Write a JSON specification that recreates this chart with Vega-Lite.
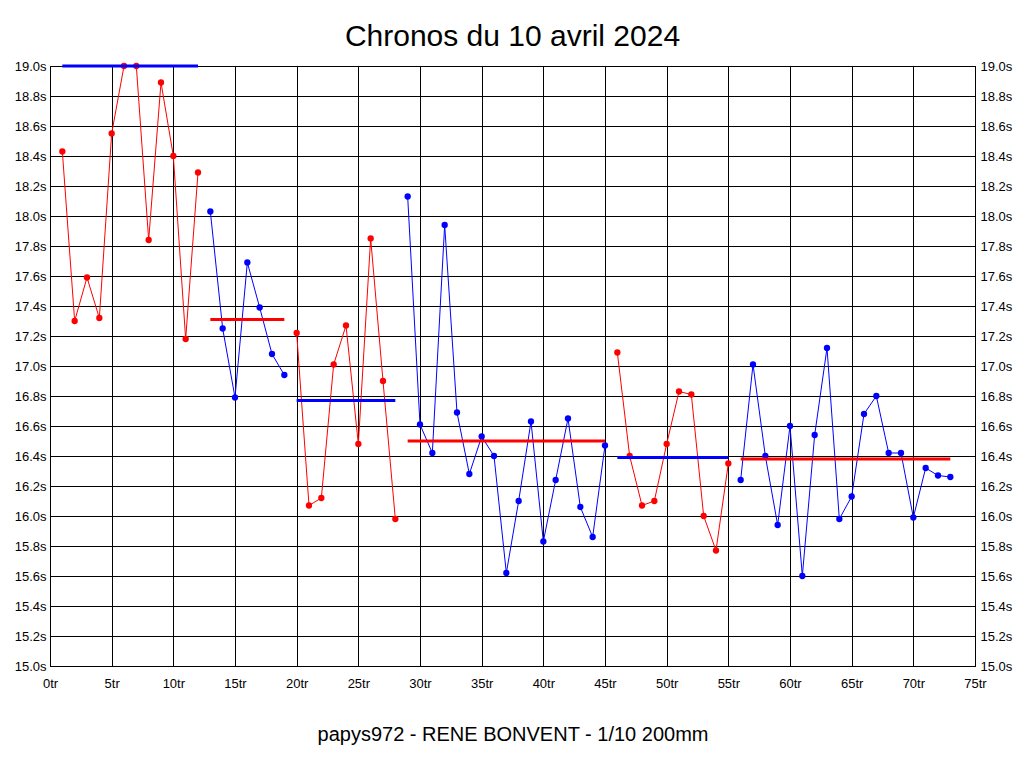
{
  "$schema": "https://vega.github.io/schema/vega-lite/v6.json",
  "width": 925,
  "height": 600,
  "autosize": {"type": "none"},
  "padding": {"left": 50, "top": 66, "right": 49, "bottom": 102},
  "background": "white",
  "title": {
    "text": "Chronos du 10 avril 2024",
    "fontSize": 30,
    "font": "Liberation Sans",
    "fontWeight": "normal",
    "color": "black",
    "anchor": "middle",
    "baseline": "alphabetic",
    "offset": -16
  },
  "config": {
    "view": {"stroke": "black", "strokeWidth": 1},
    "axis": {
      "labelFont": "Liberation Sans",
      "labelFontSize": 13,
      "labelColor": "black",
      "ticks": false,
      "tickSize": 0,
      "domainColor": "black",
      "gridColor": "black",
      "gridOpacity": 1,
      "gridWidth": 1,
      "titleFont": "Liberation Sans",
      "titleFontSize": 20,
      "titleFontWeight": "normal",
      "titleColor": "black"
    }
  },
  "datasets": {
    "laps": [
      {"lap": 1, "time": 18.43, "stint": 1},
      {"lap": 2, "time": 17.30, "stint": 1},
      {"lap": 3, "time": 17.59, "stint": 1},
      {"lap": 4, "time": 17.32, "stint": 1},
      {"lap": 5, "time": 18.55, "stint": 1},
      {"lap": 6, "time": 19.00, "stint": 1},
      {"lap": 7, "time": 19.00, "stint": 1},
      {"lap": 8, "time": 17.84, "stint": 1},
      {"lap": 9, "time": 18.89, "stint": 1},
      {"lap": 10, "time": 18.40, "stint": 1},
      {"lap": 11, "time": 17.18, "stint": 1},
      {"lap": 12, "time": 18.29, "stint": 1},
      {"lap": 13, "time": 18.03, "stint": 2},
      {"lap": 14, "time": 17.25, "stint": 2},
      {"lap": 15, "time": 16.79, "stint": 2},
      {"lap": 16, "time": 17.69, "stint": 2},
      {"lap": 17, "time": 17.39, "stint": 2},
      {"lap": 18, "time": 17.08, "stint": 2},
      {"lap": 19, "time": 16.94, "stint": 2},
      {"lap": 20, "time": 17.22, "stint": 3},
      {"lap": 21, "time": 16.07, "stint": 3},
      {"lap": 22, "time": 16.12, "stint": 3},
      {"lap": 23, "time": 17.01, "stint": 3},
      {"lap": 24, "time": 17.27, "stint": 3},
      {"lap": 25, "time": 16.48, "stint": 3},
      {"lap": 26, "time": 17.85, "stint": 3},
      {"lap": 27, "time": 16.90, "stint": 3},
      {"lap": 28, "time": 15.98, "stint": 3},
      {"lap": 29, "time": 18.13, "stint": 4},
      {"lap": 30, "time": 16.61, "stint": 4},
      {"lap": 31, "time": 16.42, "stint": 4},
      {"lap": 32, "time": 17.94, "stint": 4},
      {"lap": 33, "time": 16.69, "stint": 4},
      {"lap": 34, "time": 16.28, "stint": 4},
      {"lap": 35, "time": 16.53, "stint": 4},
      {"lap": 36, "time": 16.40, "stint": 4},
      {"lap": 37, "time": 15.62, "stint": 4},
      {"lap": 38, "time": 16.10, "stint": 4},
      {"lap": 39, "time": 16.63, "stint": 4},
      {"lap": 40, "time": 15.83, "stint": 4},
      {"lap": 41, "time": 16.24, "stint": 4},
      {"lap": 42, "time": 16.65, "stint": 4},
      {"lap": 43, "time": 16.06, "stint": 4},
      {"lap": 44, "time": 15.86, "stint": 4},
      {"lap": 45, "time": 16.47, "stint": 4},
      {"lap": 46, "time": 17.09, "stint": 5},
      {"lap": 47, "time": 16.40, "stint": 5},
      {"lap": 48, "time": 16.07, "stint": 5},
      {"lap": 49, "time": 16.10, "stint": 5},
      {"lap": 50, "time": 16.48, "stint": 5},
      {"lap": 51, "time": 16.83, "stint": 5},
      {"lap": 52, "time": 16.81, "stint": 5},
      {"lap": 53, "time": 16.00, "stint": 5},
      {"lap": 54, "time": 15.77, "stint": 5},
      {"lap": 55, "time": 16.35, "stint": 5},
      {"lap": 56, "time": 16.24, "stint": 6},
      {"lap": 57, "time": 17.01, "stint": 6},
      {"lap": 58, "time": 16.40, "stint": 6},
      {"lap": 59, "time": 15.94, "stint": 6},
      {"lap": 60, "time": 16.60, "stint": 6},
      {"lap": 61, "time": 15.60, "stint": 6},
      {"lap": 62, "time": 16.54, "stint": 6},
      {"lap": 63, "time": 17.12, "stint": 6},
      {"lap": 64, "time": 15.98, "stint": 6},
      {"lap": 65, "time": 16.13, "stint": 6},
      {"lap": 66, "time": 16.68, "stint": 6},
      {"lap": 67, "time": 16.80, "stint": 6},
      {"lap": 68, "time": 16.42, "stint": 6},
      {"lap": 69, "time": 16.42, "stint": 6},
      {"lap": 70, "time": 15.99, "stint": 6},
      {"lap": 71, "time": 16.32, "stint": 6},
      {"lap": 72, "time": 16.27, "stint": 6},
      {"lap": 73, "time": 16.26, "stint": 6}
    ],
    "avg": [
      {"stint": 1, "start": 1, "end": 12, "avg": 19.0},
      {"stint": 2, "start": 13, "end": 19, "avg": 17.31},
      {"stint": 3, "start": 20, "end": 28, "avg": 16.77},
      {"stint": 4, "start": 29, "end": 45, "avg": 16.50},
      {"stint": 5, "start": 46, "end": 55, "avg": 16.39},
      {"stint": 6, "start": 56, "end": 73, "avg": 16.38}
    ]
  },
  "layer": [
    {
      "data": {"name": "laps"},
      "mark": {"type": "line", "strokeWidth": 1, "clip": false},
      "encoding": {
        "x": {
          "field": "lap", "type": "quantitative",
          "title": "papys972 - RENE BONVENT - 1/10 200mm",
          "scale": {"domain": [0, 75], "nice": false, "zero": false},
          "axis": {"values": [0, 5, 10, 15, 20, 25, 30, 35, 40, 45, 50, 55, 60, 65, 70, 75], "labelExpr": "datum.value + 'tr'", "labelPadding": 11, "titlePadding": 34, "grid": true, "labelFlush": false}
        },
        "y": {
          "field": "time", "type": "quantitative", "title": null,
          "scale": {"domain": [15, 19], "nice": false, "zero": false},
          "axis": {"orient": "left", "values": [15, 15.2, 15.4, 15.6, 15.8, 16, 16.2, 16.4, 16.6, 16.8, 17, 17.2, 17.4, 17.6, 17.8, 18, 18.2, 18.4, 18.6, 18.8, 19], "labelExpr": "format(datum.value, '.1f') + 's'", "labelPadding": 4, "grid": true, "labelFlush": false}
        },
        "color": {"field": "stint", "type": "nominal", "legend": null,
          "scale": {"domain": [1, 2, 3, 4, 5, 6], "range": ["#ff0000", "#0000ff", "#ff0000", "#0000ff", "#ff0000", "#0000ff"]}}
      }
    },
    {
      "data": {"name": "laps"},
      "mark": {"type": "point", "filled": true, "size": 40, "opacity": 1, "clip": false},
      "encoding": {
        "x": {"field": "lap", "type": "quantitative", "title": "papys972 - RENE BONVENT - 1/10 200mm", "scale": {"domain": [0, 75], "nice": false, "zero": false}},
        "y": {
          "field": "time", "type": "quantitative", "title": null,
          "scale": {"domain": [15, 19], "nice": false, "zero": false},
          "axis": {"orient": "right", "values": [15, 15.2, 15.4, 15.6, 15.8, 16, 16.2, 16.4, 16.6, 16.8, 17, 17.2, 17.4, 17.6, 17.8, 18, 18.2, 18.4, 18.6, 18.8, 19], "labelExpr": "format(datum.value, '.1f') + 's'", "labelPadding": 5, "grid": false, "labelFlush": false}
        },
        "color": {"field": "stint", "type": "nominal", "legend": null,
          "scale": {"domain": [1, 2, 3, 4, 5, 6], "range": ["#ff0000", "#0000ff", "#ff0000", "#0000ff", "#ff0000", "#0000ff"]}}
      }
    },
    {
      "data": {"name": "avg"},
      "mark": {"type": "rule", "strokeWidth": 3, "clip": false},
      "encoding": {
        "x": {"field": "start", "type": "quantitative", "title": "papys972 - RENE BONVENT - 1/10 200mm", "scale": {"domain": [0, 75], "nice": false, "zero": false}},
        "x2": {"field": "end"},
        "y": {"field": "avg", "type": "quantitative", "title": null, "scale": {"domain": [15, 19], "nice": false, "zero": false}, "axis": null},
        "color": {"field": "stint", "type": "nominal", "legend": null,
          "scale": {"domain": [1, 2, 3, 4, 5, 6], "range": ["#0000ff", "#ff0000", "#0000ff", "#ff0000", "#0000ff", "#ff0000"]}}
      }
    }
  ],
  "resolve": {"scale": {"color": "independent"}, "axis": {"y": "independent"}}
}
